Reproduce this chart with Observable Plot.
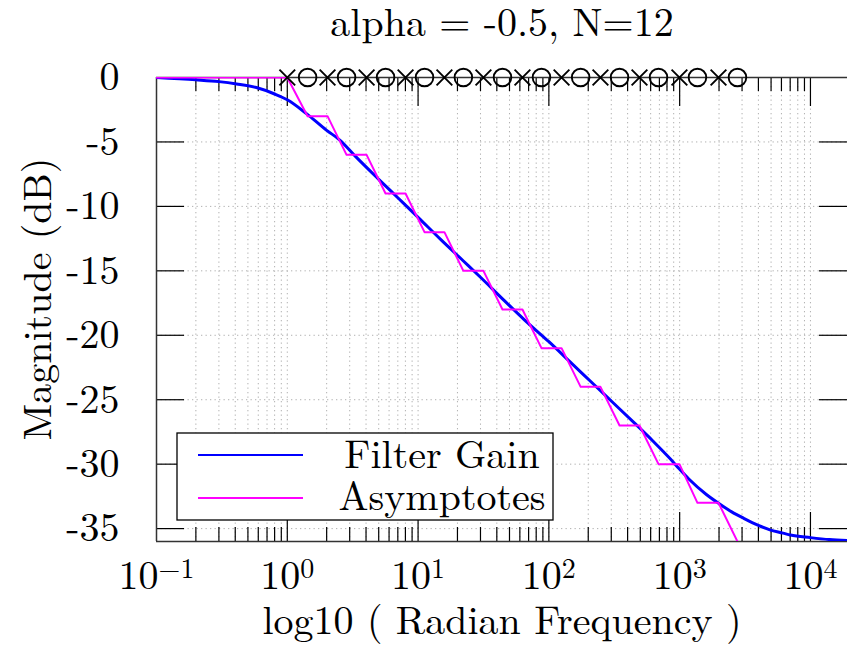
<!DOCTYPE html>
<html>
<head>
<meta charset="utf-8">
<script src="https://cdn.jsdelivr.net/npm/d3@7"></script>
<script src="https://cdn.jsdelivr.net/npm/@observablehq/plot@0.6"></script>
<style>
  body { margin: 0; background: #fff; font-family: 'Latin Modern Roman', serif; }
  #wrap { position: relative; width: 847px; height: 650px; overflow: hidden; background: #fff; }
  #titlebox { display: block; overflow: visible; }
  #chart { display: block; }
  #overlay { position: absolute; left: 0; top: 0; pointer-events: none; }
</style>
</head>
<body>
<div id="wrap">
  <svg id="titlebox" width="847" height="60" style="font-family:'Latin Modern Roman', serif"></svg>
  <div id="chart"></div>
  <svg id="overlay" width="847" height="650" style="font-family:'Latin Modern Roman', serif"></svg>
</div>
<script>
// ---- data ----
const titleText = "alpha = -0.5, N=12";
const yLabel = "Magnitude (dB)";
const xLabel = "log10 ( Radian Frequency )";

const gainW  = [0.1, 0.2, 0.3, 0.41, 0.58, 0.8, 1.0, 1.4, 2.0, 2.52, 3.38, 5, 7, 10, 15, 22, 30, 45, 65, 100, 150, 220, 300, 450, 624, 850, 1000, 1175, 1600, 1995, 2500, 3090, 4000, 4900, 6170, 7030, 10000, 14000, 19200];
const gainDb = [0, -0.18, -0.32, -0.5, -0.78, -1.28, -1.73, -2.8, -4.1, -4.85, -6.2, -7.9, -9.33, -10.85, -12.6, -14.2, -15.5, -17.25, -18.8, -20.5, -22.2, -23.8, -25.1, -26.8, -28.2, -29.6, -30.4, -31.15, -32.35, -33.05, -33.7, -34.2, -34.75, -35.1, -35.35, -35.5, -35.7, -35.85, -35.92];

const asymW  = [0.1, 1.0, 1.43, 2.03, 2.84, 4.04, 5.64, 8.02, 11.2, 15.9, 22.2, 31.6, 44.2, 62.8, 87.8, 125, 175, 248, 347, 493, 689, 996, 1368, 1981, 2767, 3900];
const asymDb = [0, 0, -3, -3, -6, -6, -9, -9, -12, -12, -15, -15, -18, -18, -21, -21, -24, -24, -27, -27, -30, -30, -33, -33, -36, -39];

const poleW = [1.0, 2.03, 4.04, 8.02, 15.9, 31.6, 62.8, 125, 248, 493, 996, 1981];
const zeroW = [1.43, 2.84, 5.64, 11.2, 22.2, 44.2, 87.8, 175, 347, 689, 1368, 2767];

const xMajorTicks = [0.1, 1, 10, 100, 1000, 10000];
const xTickExp    = ["\u22121", "0", "1", "2", "3", "4"];
const yTicks      = [0, -5, -10, -15, -20, -25, -30, -35];
const xDomain     = [0.1, 19200];
const yDomain     = [-36, 0];
const seriesNames = ["Filter Gain", "Asymptotes"];
const seriesColors = ["#0000ff", "#ff00ff"];

// ---- build ----
const FONT = "'Latin Modern Roman', serif";
const gain = gainW.map((w, i) => ({w, db: gainDb[i]}));
const asym = asymW.map((w, i) => ({w, db: asymDb[i]}));
const poles = poleW.map(w => ({w, db: 0}));
const zeros = zeroW.map(w => ({w, db: 0}));

const xMinorTicks = [];
for (const d of xMajorTicks) for (let k = 2; k <= 9; k++) { const v = d * k; if (v < xDomain[1]) xMinorTicks.push(v); }

const W = 847, H = 590, mL = 156, mR = 0, mT = 17, mB = 109;
const fH = H - mT - mB, fW = W - mL - mR;
const gridStyle = {stroke: "#b0b0b0", strokeWidth: 1, strokeDasharray: "1.3,3.2"};
const tickStyle = {stroke: "#000", strokeWidth: 1.2};

const chart = Plot.plot({
  width: W, height: H,
  marginLeft: mL, marginRight: mR, marginTop: mT, marginBottom: mB,
  x: {type: "log", domain: xDomain},
  y: {domain: yDomain},
  style: {fontFamily: FONT, background: "transparent", overflow: "visible", color: "#000"},
  marks: [
    Plot.ruleX(xMinorTicks.concat(xMajorTicks.slice(1)), gridStyle),
    Plot.ruleY(yTicks.slice(1), gridStyle),
    // ticks: bottom / top
    Plot.ruleX(xMinorTicks, {...tickStyle, insetTop: fH - 14}),
    Plot.ruleX(xMinorTicks, {...tickStyle, insetBottom: fH - 14}),
    Plot.ruleX(xMajorTicks.slice(1), {...tickStyle, insetTop: fH - 29}),
    Plot.ruleX(xMajorTicks.slice(1), {...tickStyle, insetBottom: fH - 29}),
    // ticks: left / right
    Plot.ruleY(yTicks.slice(1), {...tickStyle, insetRight: fW - 28}),
    Plot.ruleY(yTicks.slice(1), {...tickStyle, insetLeft: fW - 28}),
    // frame
    Plot.ruleX([xDomain[0]], {stroke: "#333", strokeWidth: 1.5}),
    Plot.ruleY(yDomain, {stroke: "#333", strokeWidth: 1.5}),
    // series
    Plot.line(gain, {x: "w", y: "db", stroke: seriesColors[0], strokeWidth: 3, curve: "monotone-x", clip: true}),
    Plot.line(asym, {x: "w", y: "db", stroke: seriesColors[1], strokeWidth: 2, clip: true}),
    Plot.dot(poles, {x: "w", y: "db", symbol: "times", r: 7.2, stroke: "#000", strokeWidth: 1.9}),
    Plot.dot(zeros, {x: "w", y: "db", symbol: "circle", r: 8.8, stroke: "#000", strokeWidth: 1.9, fill: "none"}),
    // axes
    Plot.axisY({ticks: yTicks, tickSize: 0, tickPadding: 37, fontSize: 40, tickFormat: d => String(d), label: null}),
    Plot.axisX({ticks: xMajorTicks, tickSize: 0, tickPadding: 19, fontSize: 40,
                tickFormat: d => "10^" + xTickExp[xMajorTicks.indexOf(d)], label: null})
  ]
});
document.getElementById("chart").appendChild(chart);

// superscripts on the x tick labels
d3.select(chart).selectAll('g[aria-label="x-axis tick label"] text').each(function() {
  const t = this.textContent;
  const [base, exp] = t.split("^");
  const sel = d3.select(this);
  sel.text(null);
  sel.append("tspan").text(base);
  sel.append("tspan").attr("font-size", 28).attr("dy", -11).text(exp);
});

// title (above the chart svg)
d3.select("#titlebox").append("text").attr("x", 502).attr("y", 36).attr("text-anchor", "middle")
  .attr("font-size", 40).attr("fill", "#000").text(titleText);

// overlay: axis labels and legend
const ov = d3.select("#overlay");
ov.append("text").attr("transform", "translate(51,299) rotate(-90)").attr("text-anchor", "middle")
  .attr("font-size", 40).text(yLabel);
ov.append("text").attr("x", 502).attr("y", 634).attr("text-anchor", "middle")
  .attr("font-size", 40).text(xLabel);

const lg = ov.append("g");
lg.append("rect").attr("x", 177).attr("y", 433).attr("width", 376).attr("height", 87)
  .attr("fill", "#fff").attr("stroke", "#000").attr("stroke-width", 1.3);
const rowsY = [455, 498], textY = [468, 510];
seriesNames.forEach((name, i) => {
  lg.append("line").attr("x1", 198).attr("x2", 303).attr("y1", rowsY[i]).attr("y2", rowsY[i])
    .attr("stroke", seriesColors[i]).attr("stroke-width", 2);
  lg.append("text").attr("x", 442).attr("y", textY[i]).attr("text-anchor", "middle")
    .attr("font-size", 40).text(name);
});
</script>
</body>
</html>
